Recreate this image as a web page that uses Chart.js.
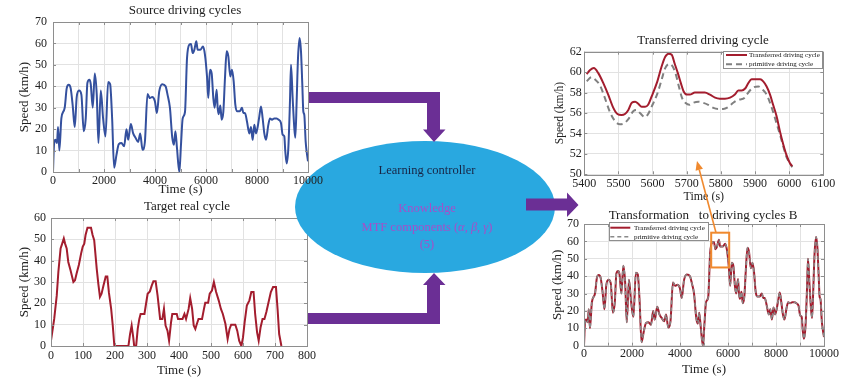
<!DOCTYPE html>
<html><head><meta charset="utf-8">
<script src="https://cdn.jsdelivr.net/npm/chart.js@4/dist/chart.umd.min.js"></script>
<style>
html,body{margin:0;padding:0;background:#fff;}
body{width:851px;height:379px;overflow:hidden;position:relative;font-family:'Liberation Serif','Times New Roman',serif;}
canvas{position:absolute;}
.t{position:absolute;white-space:pre;transform:translate(-50%,-50%);color:#222;font-size:13px;line-height:1;}
.e{position:absolute;white-space:pre;transform:translate(-50%,-50%);font-size:12.5px;line-height:1;z-index:3;}
</style></head><body>
<canvas id="c2" width="330" height="179" style="left:0;top:200px;z-index:1"></canvas>
<svg id="diag" width="851" height="379" style="position:absolute;left:0;top:0;z-index:2">
  <ellipse cx="425" cy="207" rx="130" ry="66" fill="#29a8e0"/>
  <polygon fill="#6b2f95" points="308,92 440,92 440,129.5 445.5,129.5 434,142 423,129.5 427,129.5 427,103 308,103"/>
  <polygon fill="#6b2f95" points="308,324 440,324 440,285 445.5,285 434,273 423,285 427,285 427,313 308,313"/>
  <polygon fill="#6b2f95" points="526,198.5 567,198.5 567,192.5 578.5,205 567,217 567,210.5 526,210.5"/>
</svg>
<div class="e" style="left:427px;top:170px;color:#182444;">Learning controller</div>
<div class="e" style="left:427px;top:208px;color:#a54fc8;">Knowledge</div>
<div class="e" style="left:427px;top:227px;color:#a54fc8;">MTF components (<i>α</i>, <i>β</i>, <i>γ</i>)</div>
<div class="e" style="left:427px;top:244px;color:#a54fc8;">(5)</div>
<canvas id="c1" width="330" height="200" style="left:0;top:0;z-index:3"></canvas>
<canvas id="c3" width="300" height="190" style="left:540px;top:20px;z-index:3"></canvas>
<canvas id="c4" width="300" height="174" style="left:540px;top:205px;z-index:3"></canvas>
<svg id="ann" width="851" height="379" style="position:absolute;left:0;top:0;z-index:4;pointer-events:none">
  <line id="oline" stroke="#f0892e" stroke-width="1.6"/>
  <polygon id="ohead" fill="#f0892e"/>
</svg>
<div class="t" style="left:185px;top:9px;z-index:5">Source driving cycles</div>
<div class="t" style="left:187px;top:205px;z-index:5">Target real cycle</div>
<div class="t" style="left:703px;top:39px;z-index:5">Transferred driving cycle</div>
<div class="t" style="left:703px;top:214px;z-index:5">Transformation   to driving cycles B</div>
<script>
// ---------- data ----------
// Source driving cycle (top-left); also the curve in "Transformation to driving cycles B"
const sourceTime = [0,39,92,157,197,249,328,459,537,616,694,773,852,930,1022,1114,1205,1284,1349,1428,1480,1559,1638,1716,1782,1873,1965,2057,2162,2240,2319,2397,2489,2581,2686,2790,2882,2948,3052,3144,3236,3341,3419,3511,3603,3707,3799,3891,3996,4074,4166,4284,4415,4493,4585,4677,4742,4800,4863,4954,5019,5085,5176,5255,5346,5412,5477,5542,5621,5673,5777,5882,5960,6039,6091,6156,6222,6287,6339,6418,6457,6496,6562,6614,6679,6745,6810,6875,6954,7019,7085,7150,7215,7320,7411,7464,7529,7607,7699,7764,7829,7895,7960,8026,8091,8156,8222,8287,8352,8444,8509,8588,8679,8770,8849,8940,9006,9071,9110,9163,9228,9293,9333,9398,9463,9503,9555,9607,9672,9725,9777,9816,9855,9908,9947,10000];
const sourceSpeed = [0,12.7,15,13.5,21,10,25,30,39,40.7,39,31,21,35,38,36,19,25,41.5,43,41,30,46,36,13.5,38,25,16.6,42,41,25,2,8,13,13.5,12,20,15,22.4,18,16,14,18,10.4,14,36.4,34.5,35,33,27.5,37.6,41,40,36,30,16,12.7,19,11,0,12.7,25,28,53,59.4,59.7,55.5,57,61,57,57,58.6,54.7,44.6,34.5,47.7,46,34.5,30,38.4,30,27,31,24.4,28,44,56.3,54,44.6,47.7,42.3,31.4,28.3,28.3,30,27.5,27.5,23.6,18,21,15,22,18,21,26,30.6,25,18,15,22,25,24.4,25,25,24.4,22.9,17.4,16.6,9.6,4,11,33,50,34.5,20.5,16,33,53,62.5,56.3,40.7,28.3,26.7,14.3,9.6,5];

// Target real cycle (bottom-left)
const targetTime = [0,10,18,23,30,35,40,44,49,54,61,70,75,80,87,94,99,104,108,114,125,130,135,143,148,153,158,164,171,176,181,188,193,198,242,247,252,257,260,266,271,276,280,292,297,302,309,315,320,327,333,341,348,353,358,364,369,375,379,393,397,411,417,422,430,435,441,446,451,456,461,472,478,482,491,496,503,509,516,524,531,537,545,552,558,563,576,582,588,595,600,605,612,620,626,633,638,644,649,655,661,667,673,680,687,694,703,708,713,720];
const targetSpeed = [2.5,12.7,23.7,34.7,45.7,48,50.4,48,45.7,39.4,35.5,30,30.8,34,38,43.3,46.5,48,52,55.4,55.4,52,49.6,36,29,23,24.5,28.4,32.6,32.6,25,17.4,9.6,0,0,5.6,9.6,4,0,0,8,12.7,15,15,19.8,24.5,25.6,28.4,30.3,30.3,23.7,12.7,12.7,17.4,9.6,7.2,2.5,11,15,15,12.7,12.7,15,12.7,17.4,22.4,17.4,9.6,8,10.4,12.7,12.7,17.4,20.3,20.3,24.5,26,30,25.3,21.4,17.4,15,10.4,3.3,8,10,10,7.2,2.5,0,4,11,19,21.4,25.3,25.3,15,6.4,2.5,8.8,12.7,12.7,15.9,20.6,25.3,27.6,27.6,17.4,5.6,0];

// Transferred driving cycle (zoom 5400-6100 s)
const transTime = [5407,5417,5428,5441,5456,5470,5485,5497,5509,5519,5529,5539,5549,5558,5568,5578,5587,5597,5614,5626,5637,5647,5656,5665,5674,5683,5691,5701,5709,5724,5739,5753,5768,5783,5797,5812,5827,5841,5851,5861,5871,5880,5890,5900,5915,5924,5934,5944,5953,5963,5973,5983,5992,6002,6009];
const transSpeed = [59.8,60.2,60.4,59.9,58.9,57.8,56.5,55.9,55.8,55.9,56.3,57.0,57.1,56.9,56.6,56.6,56.8,57.6,59.1,60.5,61.5,61.8,61.7,60.8,59.9,58.9,58.1,57.8,57.8,58.0,58.0,58.0,57.8,57.5,57.4,57.4,57.5,57.8,58.2,58.2,58.4,58.9,59.3,59.3,59.3,59.1,58.6,57.8,56.8,55.7,54.2,52.9,51.9,51.1,50.8];
const primTime = [5407,5421,5431,5446,5461,5475,5490,5504,5517,5529,5544,5554,5563,5578,5587,5597,5614,5626,5637,5648,5658,5667,5677,5686,5696,5708,5719,5734,5748,5763,5778,5792,5807,5822,5836,5851,5866,5876,5885,5895,5910,5922,5934,5944,5953,5963,5973,5983,5992,6002,6009];
const primSpeed = [59.1,59.5,59.3,58.7,57.4,56.1,55.2,54.9,55.0,55.4,56.2,56.3,56.0,55.6,55.9,56.6,57.9,59.2,60.4,60.8,60.6,59.9,58.6,57.5,57.0,56.8,57.0,57.1,57.0,56.8,56.5,56.4,56.4,56.6,57.0,57.3,57.4,57.8,58.2,58.5,58.6,58.3,57.8,57.0,56.1,55.0,53.9,52.7,51.7,51.1,50.7];

// Chart B: transferred and primitive cycles over the full range
const cycleBTime = sourceTime;
const cycleBTransferred = sourceSpeed;
const cycleBPrimitive = sourceSpeed;

// Ticks
const longGrid = [0,1000,2000,3000,4000,5000,6000,7000,8000,9000,10000];
const longLabels = [0,2000,4000,6000,8000,10000];
const speed70 = [0,10,20,30,40,50,60,70];
const targetXTicks = [0,100,200,300,400,500,600,700,800];
const speed60 = [0,10,20,30,40,50,60];
const zoomXTicks = [5400,5500,5600,5700,5800,5900,6000,6100];
const zoomYTicks = [50,52,54,56,58,60,62];

// Annotations
const zoomBoxX = [5300, 6050];
const zoomBoxY = [45, 65];
const arrowFromB = [5500, 65];
const arrowToZoom = [5730, 51.3];

const labelTransferred = 'Transferred driving cycle';
const labelPrimitive = 'primitive driving cycle';

// ---------- helpers ----------
const FONT = "'Liberation Serif','Times New Roman',serif";
const pts = (xs, ys) => xs.map((v, i) => ({x: v, y: ys[i]}));
const FRAME = '#8e8e8e', GRID = '#e2e2e2', TXT = '#222';

const framePlugin = {
  id: 'frame',
  afterDatasetsDraw(chart) {
    const {ctx, chartArea: a} = chart;
    const x = chart.scales.x, y = chart.scales.y;
    ctx.save();
    ctx.strokeStyle = FRAME; ctx.lineWidth = 1;
    ctx.strokeRect(Math.round(a.left) + 0.5, Math.round(a.top) + 0.5, Math.round(a.right - a.left), Math.round(a.bottom - a.top));
    ctx.beginPath();
    x.ticks.forEach(t => {
      const p = Math.round(x.getPixelForValue(t.value)) + 0.5;
      ctx.moveTo(p, a.bottom); ctx.lineTo(p, a.bottom - 3);
      ctx.moveTo(p, a.top); ctx.lineTo(p, a.top + 3);
    });
    y.ticks.forEach(t => {
      const p = Math.round(y.getPixelForValue(t.value)) + 0.5;
      ctx.moveTo(a.left, p); ctx.lineTo(a.left + 3, p);
      ctx.moveTo(a.right, p); ctx.lineTo(a.right - 3, p);
    });
    ctx.stroke();
    ctx.restore();
  }
};

function makeLegend(o) {
  return {
    id: 'boxLegend',
    afterDraw(chart) {
      const a = chart.chartArea, ctx = chart.ctx;
      const left = Math.round(o.anchor === 'right' ? a.right - o.w + o.dx : a.left + o.dx);
      const top = Math.round(a.top + o.dy);
      ctx.save();
      ctx.fillStyle = '#fff'; ctx.fillRect(left, top, o.w, o.h);
      ctx.strokeStyle = FRAME; ctx.lineWidth = 1; ctx.strokeRect(left + 0.5, top + 0.5, o.w, o.h);
      ctx.font = o.size + 'px ' + FONT; ctx.textBaseline = 'middle'; ctx.textAlign = 'left';
      chart.data.datasets.forEach((ds, i) => {
        const yy = top + o.rows[i];
        ctx.strokeStyle = ds.borderColor; ctx.lineWidth = ds.borderWidth;
        ctx.setLineDash(ds.borderDash || []);
        ctx.beginPath(); ctx.moveTo(left + o.s0, yy); ctx.lineTo(left + o.s1, yy); ctx.stroke();
        ctx.setLineDash([]);
        ctx.fillStyle = '#111'; ctx.fillText(ds.label, left + o.tx, yy);
      });
      ctx.restore();
    }
  };
}

const zoomBoxPlugin = {
  id: 'zoomBox',
  afterDraw(chart) {
    const {ctx} = chart, x = chart.scales.x, y = chart.scales.y;
    const x0 = x.getPixelForValue(zoomBoxX[0]), x1 = x.getPixelForValue(zoomBoxX[1]);
    const y0 = y.getPixelForValue(zoomBoxY[1]), y1 = y.getPixelForValue(zoomBoxY[0]);
    ctx.save(); ctx.strokeStyle = '#f0892e'; ctx.lineWidth = 2;
    ctx.strokeRect(x0, y0, x1 - x0, y1 - y0); ctx.restore();
  }
};

function axis(o) {
  return {
    type: 'linear', min: o.min, max: o.max,
    afterBuildTicks: s => { s.ticks = o.ticks.map(v => ({value: v})); },
    afterFit: s => { if (o.width !== undefined) s.width = o.width; if (o.height !== undefined) s.height = o.height; },
    ticks: {
      autoSkip: false, maxRotation: 0, padding: o.tpad, color: TXT,
      font: {family: FONT, size: 12},
      callback: v => (o.labels ? (o.labels.includes(v) ? String(v) : '') : String(v))
    },
    grid: {color: GRID, drawTicks: false, lineWidth: 1},
    border: {display: false},
    title: {display: true, text: o.title, color: TXT, font: {family: FONT, size: o.tsize || 13}, padding: o.titlePad}
  };
}

function baseOpts(pad, scales) {
  return {
    responsive: false, animation: false, devicePixelRatio: 1,
    layout: {padding: pad},
    plugins: {legend: {display: false}, tooltip: {enabled: false}, title: {display: false}},
    elements: {point: {radius: 0}},
    scales: scales
  };
}

// ---------- Chart 1: Source driving cycles ----------
new Chart(document.getElementById('c1'), {
  type: 'line',
  data: {datasets: [{data: pts(sourceTime, sourceSpeed), borderColor: '#34509e', borderWidth: 2, cubicInterpolationMode: 'monotone', fill: false}]},
  options: baseOpts({left: 0, top: 22, right: 22, bottom: 0}, {
    x: axis({min: 0, max: 10000, ticks: longGrid, labels: longLabels, height: 28, tpad: 2, title: 'Time (s)', titlePad: {top: 0, bottom: 3}}),
    y: axis({min: 0, max: 70, ticks: speed70, width: 53, tpad: 6, title: 'Speed (km/h)', titlePad: {top: 17, bottom: 0}})
  }),
  plugins: [framePlugin]
});

// ---------- Chart 2: Target real cycle ----------
new Chart(document.getElementById('c2'), {
  type: 'line',
  data: {datasets: [{data: pts(targetTime, targetSpeed), borderColor: '#a31d2e', borderWidth: 2, tension: 0, fill: false}]},
  options: baseOpts({left: 0, top: 18, right: 23, bottom: 0}, {
    x: axis({min: 0, max: 800, ticks: targetXTicks, height: 33, tpad: 3, title: 'Time (s)', titlePad: {top: 0, bottom: 1}}),
    y: axis({min: 0, max: 60, ticks: speed60, width: 51, tpad: 5, title: 'Speed (km/h)', titlePad: {top: 16.7, bottom: 0}})
  }),
  plugins: [framePlugin]
});

// ---------- Chart 3: Transferred driving cycle ----------
const chart3 = new Chart(document.getElementById('c3'), {
  type: 'line',
  data: {datasets: [
    {label: labelTransferred, data: pts(transTime, transSpeed), borderColor: '#a31d2e', borderWidth: 2, cubicInterpolationMode: 'monotone', fill: false},
    {label: labelPrimitive, data: pts(primTime, primSpeed), borderColor: '#808080', borderWidth: 2, borderDash: [6, 4], cubicInterpolationMode: 'monotone', fill: false}
  ]},
  options: baseOpts({left: 0, top: 31.7, right: 16.7, bottom: 0}, {
    x: axis({min: 5400, max: 6100, ticks: zoomXTicks, height: 35.7, tpad: 2.5, title: 'Time (s)', tsize: 12, titlePad: {top: 0, bottom: 6}}),
    y: axis({min: 50, max: 62, ticks: zoomYTicks, width: 44.3, tpad: 2.6, title: 'Speed (km/h)', tsize: 11.5, titlePad: {top: 13, bottom: 0}})
  }),
  plugins: [framePlugin, makeLegend({anchor: 'right', dx: -1, dy: -1, w: 99, h: 17, rows: [4, 13.3], s0: 3, s1: 24, tx: 26, size: 7})]
});

// ---------- Chart 4: Transformation to driving cycles B ----------
const chart4 = new Chart(document.getElementById('c4'), {
  type: 'line',
  data: {datasets: [
    {label: labelTransferred, data: pts(cycleBTime, cycleBTransferred), borderColor: '#a31d2e', borderWidth: 2, cubicInterpolationMode: 'monotone', fill: false, order: 1},
    {label: labelPrimitive, data: pts(cycleBTime, cycleBPrimitive), borderColor: '#8a8a8a', borderWidth: 1.5, borderDash: [4, 3], cubicInterpolationMode: 'monotone', fill: false, order: 0}
  ]},
  options: baseOpts({left: 0, top: 19, right: 16, bottom: 0}, {
    x: axis({min: 0, max: 10000, ticks: longGrid, labels: longLabels, height: 33.3, tpad: 1, title: 'Time (s)', titlePad: {top: 0, bottom: 1.2}}),
    y: axis({min: 0, max: 70, ticks: speed70, width: 44, tpad: 5, title: 'Speed (km/h)', titlePad: {top: 9.7, bottom: 0}})
  }),
  plugins: [framePlugin, zoomBoxPlugin, makeLegend({anchor: 'left', dx: 24.7, dy: -2, w: 99, h: 18, rows: [5.7, 14.7], s0: 1.3, s1: 21.3, tx: 25, size: 7})]
});

// ---------- Orange arrow from the box in chart B to the zoomed chart ----------
(function () {
  const x1 = 540 + chart4.scales.x.getPixelForValue(arrowFromB[0]);
  const y1 = 205 + chart4.scales.y.getPixelForValue(arrowFromB[1]);
  const x2 = 540 + chart3.scales.x.getPixelForValue(arrowToZoom[0]);
  const y2 = 20 + chart3.scales.y.getPixelForValue(arrowToZoom[1]);
  const dx = x2 - x1, dy = y2 - y1, L = Math.hypot(dx, dy), ux = dx / L, uy = dy / L;
  const hl = 9, hw = 3.8;
  const bx = x2 - ux * hl, by = y2 - uy * hl;
  const ln = document.getElementById('oline');
  ln.setAttribute('x1', x1); ln.setAttribute('y1', y1);
  ln.setAttribute('x2', bx); ln.setAttribute('y2', by);
  document.getElementById('ohead').setAttribute('points',
    `${x2},${y2} ${bx - uy * hw},${by + ux * hw} ${bx + uy * hw},${by - ux * hw}`);
})();
</script>
</body></html>
